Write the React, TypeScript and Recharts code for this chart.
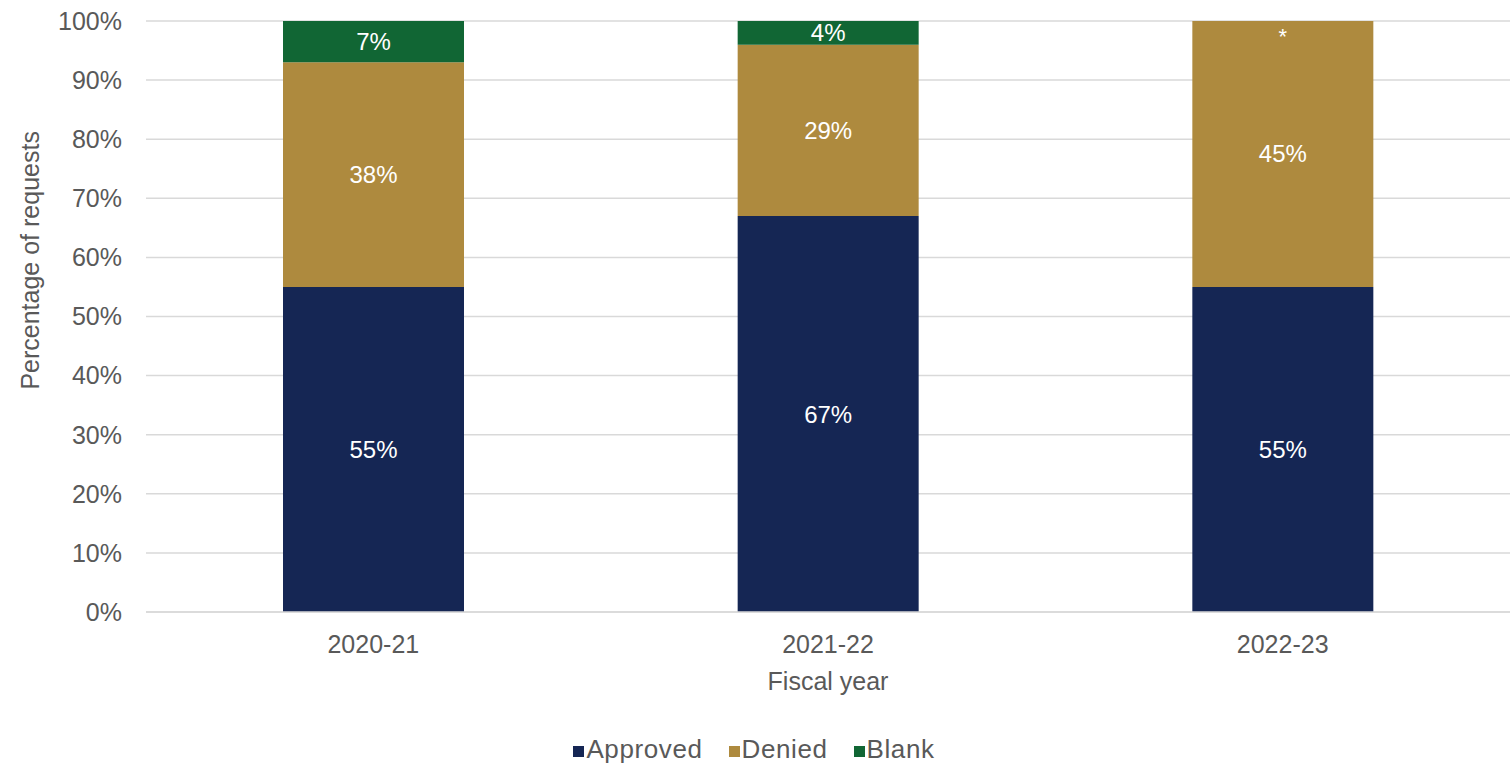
import { BarChart, Bar, XAxis, YAxis, CartesianGrid, Legend, LabelList, Label } from 'recharts';

const years = ['2020-21', '2021-22', '2022-23'];
const approved = [55, 67, 55];
const denied = [38, 29, 45];
const blank = [7, 4, 0];
const yTicks = [0, 10, 20, 30, 40, 50, 60, 70, 80, 90, 100];

const COLORS = {
  approved: '#152654',
  denied: '#AE8A3E',
  blank: '#116634',
};

const FONT = '"Liberation Sans", Arial, Helvetica, sans-serif';
const TEXT = '#595959';

const data = years.map((year, i) => ({
  year,
  Approved: approved[i],
  Denied: denied[i],
  Blank: blank[i],
}));

const legendItems = [
  { value: 'Approved', type: 'square', color: COLORS.approved, id: 'Approved' },
  { value: 'Denied', type: 'square', color: COLORS.denied, id: 'Denied' },
  { value: 'Blank', type: 'square', color: COLORS.blank, id: 'Blank' },
];

// white value label centred in the segment
const SegmentLabel = (props: any) => {
  const { x, y, width, height, value } = props;
  if (!value) return null;
  const cx = Number(x) + Number(width) / 2;
  return (
    <text x={cx} y={Number(y) + Number(height) / 2} fill="#fff" fontSize={24} fontFamily={FONT} textAnchor="middle" dominantBaseline="central">
      {`${value}%`}
    </text>
  );
};

// denied label, plus an asterisk at the top where the blank share is zero
const DeniedLabel = (props: any) => {
  const { x, y, width, index } = props;
  const cx = Number(x) + Number(width) / 2;
  return (
    <g>
      <SegmentLabel {...props} />
      {blank[index] === 0 && (
        <text x={cx} y={Number(y) + 15} fill="#fff" fontSize={22} fontFamily={FONT} textAnchor="middle" dominantBaseline="central">
          *
        </text>
      )}
    </g>
  );
};

const YTitle = (props: any) => {
  const vb = props.viewBox || {};
  const x = 30;
  const y = vb.y + vb.height * 0.405;
  return (
    <text x={x} y={y} transform={`rotate(-90 ${x} ${y})`} fill={TEXT} fontSize={25} fontFamily={FONT} textAnchor="middle" dominantBaseline="central">
      Percentage of requests
    </text>
  );
};

export default function App() {
  return (
    <div style={{ position: 'absolute', left: 0, top: 0, background: '#fff' }}>
      <BarChart width={1511} height={772} data={data} margin={{ top: 21, right: 1, left: 0, bottom: 3 }} barSize={181}>
        <CartesianGrid stroke="#d9d9d9" strokeWidth={1.5} vertical={false} />
        <XAxis
          dataKey="year"
          height={117}
          tickSize={0}
          tickMargin={23}
          axisLine={{ stroke: '#d9d9d9', strokeWidth: 1.5 }}
          tickLine={false}
          tick={{ fontSize: 25, fill: TEXT, fontFamily: FONT }}
        >
          <Label value="Fiscal year" position="insideTop" offset={60} fill={TEXT} fontSize={25} fontFamily={FONT} />
        </XAxis>
        <YAxis
          width={146}
          domain={[0, 100]}
          ticks={yTicks}
          tickFormatter={(v: number) => `${v}%`}
          tickSize={0}
          tickMargin={24}
          axisLine={false}
          tickLine={false}
          tick={{ fontSize: 25, fill: TEXT, fontFamily: FONT }}
          label={<YTitle />}
        />
        <Legend
          verticalAlign="bottom"
          iconType="square"
          iconSize={11}
          payload={legendItems as any}
          itemSorter={null as any}
          wrapperStyle={{ height: 40, lineHeight: '40px', fontFamily: FONT, fontSize: 26, letterSpacing: 0.6, paddingLeft: 24, boxSizing: 'border-box' }}
          formatter={(value: string) => <span style={{ color: TEXT, marginLeft: -2, marginRight: 16 }}>{value}</span>}
        />
        <Bar dataKey="Approved" stackId="a" fill={COLORS.approved} isAnimationActive={false}>
          <LabelList dataKey="Approved" content={<SegmentLabel />} />
        </Bar>
        <Bar dataKey="Denied" stackId="a" fill={COLORS.denied} isAnimationActive={false}>
          <LabelList dataKey="Denied" content={<DeniedLabel />} />
        </Bar>
        <Bar dataKey="Blank" stackId="a" fill={COLORS.blank} isAnimationActive={false}>
          <LabelList dataKey="Blank" content={<SegmentLabel />} />
        </Bar>
      </BarChart>
    </div>
  );
}
